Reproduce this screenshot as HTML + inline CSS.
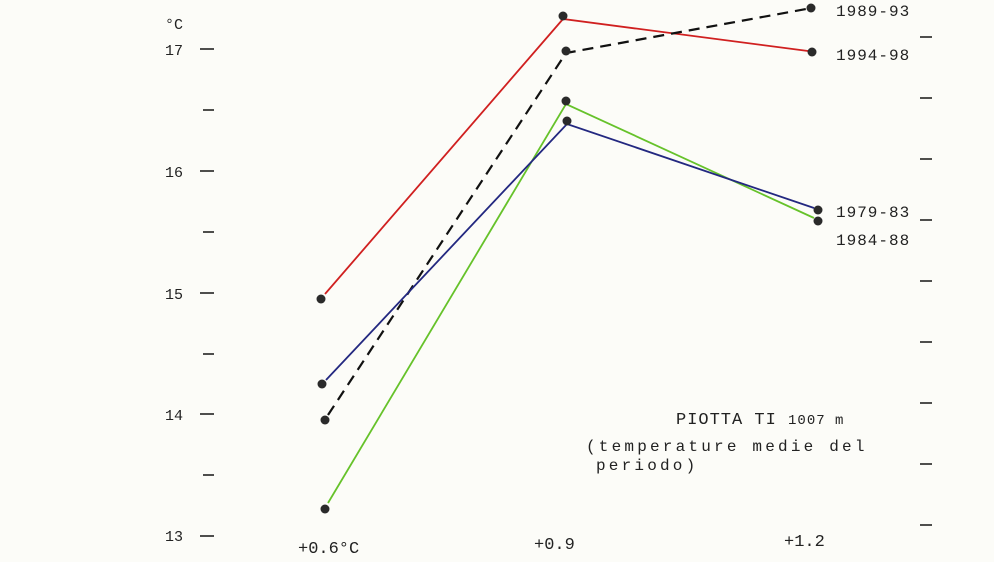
<!DOCTYPE html>
<html><head><meta charset="utf-8"><style>
html,body{margin:0;padding:0;background:#fcfcf8;}
svg{display:block}
text{font-family:"Liberation Mono","DejaVu Sans Mono",monospace;fill:#222;}
</style></head><body>
<svg width="994" height="562" viewBox="0 0 994 562">
<rect width="994" height="562" fill="#fcfcf8"/>
<g stroke="#222" stroke-width="1.6">
<line x1="200" y1="49" x2="214" y2="49"/>
<line x1="203" y1="110" x2="214" y2="110"/>
<line x1="200" y1="171" x2="214" y2="171"/>
<line x1="203" y1="232" x2="214" y2="232"/>
<line x1="200" y1="293" x2="214" y2="293"/>
<line x1="203" y1="354" x2="214" y2="354"/>
<line x1="200" y1="414" x2="214" y2="414"/>
<line x1="203" y1="475" x2="214" y2="475"/>
<line x1="200" y1="536" x2="214" y2="536"/>
<line x1="920" y1="37" x2="932" y2="37"/>
<line x1="920" y1="98" x2="932" y2="98"/>
<line x1="920" y1="159" x2="932" y2="159"/>
<line x1="920" y1="220" x2="932" y2="220"/>
<line x1="920" y1="281" x2="932" y2="281"/>
<line x1="920" y1="342" x2="932" y2="342"/>
<line x1="920" y1="403" x2="932" y2="403"/>
<line x1="920" y1="464" x2="932" y2="464"/>
<line x1="920" y1="525" x2="932" y2="525"/>
</g>
<g font-size="15">
<text x="165" y="29">°C</text>
<text x="165" y="55">17</text>
<text x="165" y="177">16</text>
<text x="165" y="299">15</text>
<text x="165" y="420">14</text>
<text x="165" y="541">13</text>
<text x="298" y="553" font-size="17">+0.6°C</text>
<text x="534" y="549" font-size="17">+0.9</text>
<text x="784" y="546" font-size="17">+1.2</text>
<g font-size="16" letter-spacing="1">
<text x="836" y="16">1989-93</text>
<text x="836" y="60">1994-98</text>
<text x="836" y="217">1979-83</text>
<text x="836" y="245">1984-88</text>
</g>
<text x="676" y="424" font-size="17" font-family="Liberation Sans,sans-serif" letter-spacing="1">PIOTTA TI <tspan font-size="14">1007 m</tspan></text>
<g font-size="16" letter-spacing="3.2">
<text x="586" y="451">(temperature medie del</text>
<text x="596" y="470">periodo)</text>
</g>
</g>
<g fill="none" stroke-width="1.8">
<polyline points="325,294 563,19 808,51" stroke="#d02020"/>
<polyline points="328,415 566,53 806,9" stroke="#111" stroke-dasharray="11,7" stroke-width="2.2"/>
<polyline points="328,503 566,104 814,218" stroke="#66c22a"/>
<polyline points="326,380 567,124 814,208" stroke="#232880"/>
</g>
<g fill="#2a2a2a">
<circle cx="321" cy="299" r="4.5"/><circle cx="563" cy="16" r="4.5"/><circle cx="812" cy="52" r="4.5"/>
<circle cx="325" cy="420" r="4.5"/><circle cx="566" cy="51" r="4.5"/><circle cx="811" cy="8" r="4.5"/>
<circle cx="325" cy="509" r="4.5"/><circle cx="566" cy="101" r="4.5"/><circle cx="818" cy="221" r="4.5"/>
<circle cx="322" cy="384" r="4.5"/><circle cx="567" cy="121" r="4.5"/><circle cx="818" cy="210" r="4.5"/>
</g>
</svg>
</body></html>
